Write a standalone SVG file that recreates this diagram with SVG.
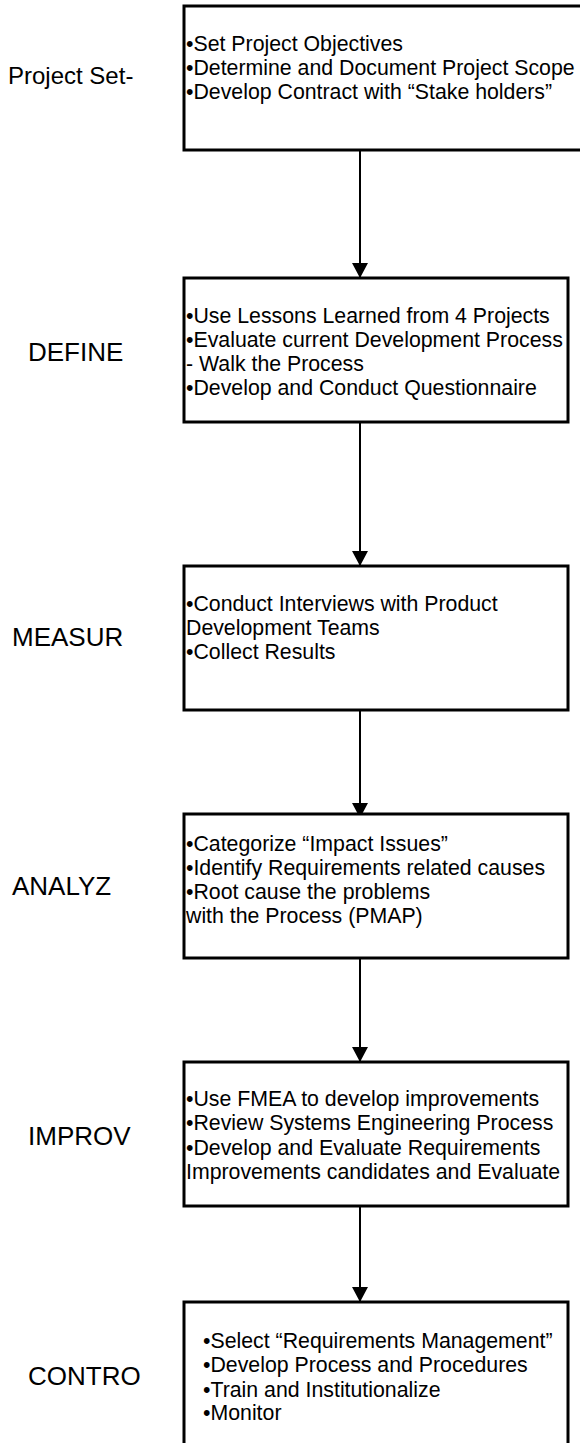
<svg xmlns="http://www.w3.org/2000/svg" width="580" height="1443" viewBox="0 0 580 1443">
<style>
.box{fill:#fff;stroke:#000;stroke-width:3}
.t{font-family:"Liberation Sans",Arial,sans-serif;font-size:21.3px;fill:#000}
.lbl{font-family:"Liberation Sans",Arial,sans-serif;font-size:26px;fill:#000}
.con{stroke:#000;stroke-width:2;fill:none}
</style>
<defs>
<marker id="ah" markerUnits="userSpaceOnUse" markerWidth="16" markerHeight="16" refX="15" refY="8" orient="auto">
<path d="M0,0 L15,8 L0,16 Z" fill="#000"/>
</marker>
</defs>
<rect width="580" height="1443" fill="#fff"/>
<g id="labels">
<text class="lbl" x="8" y="84" style="font-size:24px">Project Set-</text>
<text class="lbl" x="28" y="361">DEFINE</text>
<text class="lbl" x="12" y="646">MEASUR</text>
<text class="lbl" x="12" y="895">ANALYZ</text>
<text class="lbl" x="28" y="1145">IMPROV</text>
<text class="lbl" x="28" y="1385">CONTRO</text>
</g>
<g id="connectors">
<line class="con" x1="360" y1="150" x2="360" y2="278" marker-end="url(#ah)"/>
<line class="con" x1="360" y1="422" x2="360" y2="566" marker-end="url(#ah)"/>
<line class="con" x1="360" y1="710" x2="360" y2="818" marker-end="url(#ah)"/>
<line class="con" x1="360" y1="950" x2="360" y2="1062" marker-end="url(#ah)"/>
<line class="con" x1="360" y1="1206" x2="360" y2="1302" marker-end="url(#ah)"/>
</g>
<g id="node-setup">
<rect class="box" x="184" y="6" width="400" height="144"/>
<text class="t" x="186" y="51">•Set Project Objectives</text>
<text class="t" x="186" y="75">•Determine and Document Project Scope</text>
<text class="t" x="186" y="99">•Develop Contract with “Stake holders”</text>
</g>
<g id="node-define">
<rect class="box" x="184" y="278" width="384" height="144"/>
<text class="t" x="186" y="323">•Use Lessons Learned from 4 Projects</text>
<text class="t" x="186" y="347">•Evaluate current Development Process</text>
<text class="t" x="186" y="371">- Walk the Process</text>
<text class="t" x="186" y="395">•Develop and Conduct Questionnaire</text>
</g>
<g id="node-measure">
<rect class="box" x="184" y="566" width="384" height="144"/>
<text class="t" x="186" y="611">•Conduct Interviews with Product</text>
<text class="t" x="186" y="635">Development Teams</text>
<text class="t" x="186" y="659">•Collect Results</text>
</g>
<g id="node-analyze">
<rect class="box" x="184" y="814" width="384" height="144"/>
<text class="t" x="186" y="851">•Categorize “Impact Issues”</text>
<text class="t" x="186" y="875">•Identify Requirements related causes</text>
<text class="t" x="186" y="899">•Root cause the problems</text>
<text class="t" x="186" y="923">with the Process (PMAP)</text>
</g>
<g id="node-improve">
<rect class="box" x="184" y="1062" width="384" height="144"/>
<text class="t" x="186" y="1106">•Use FMEA to develop improvements</text>
<text class="t" x="186" y="1130">•Review Systems Engineering Process</text>
<text class="t" x="186" y="1155">•Develop and Evaluate Requirements</text>
<text class="t" x="186" y="1179">Improvements candidates and Evaluate</text>
</g>
<g id="node-control">
<rect class="box" x="184" y="1302" width="384" height="160"/>
<text class="t" x="203" y="1348">•Select “Requirements Management”</text>
<text class="t" x="203" y="1372">•Develop Process and Procedures</text>
<text class="t" x="203" y="1397">•Train and Institutionalize</text>
<text class="t" x="203" y="1420">•Monitor</text>
</g>
</svg>
